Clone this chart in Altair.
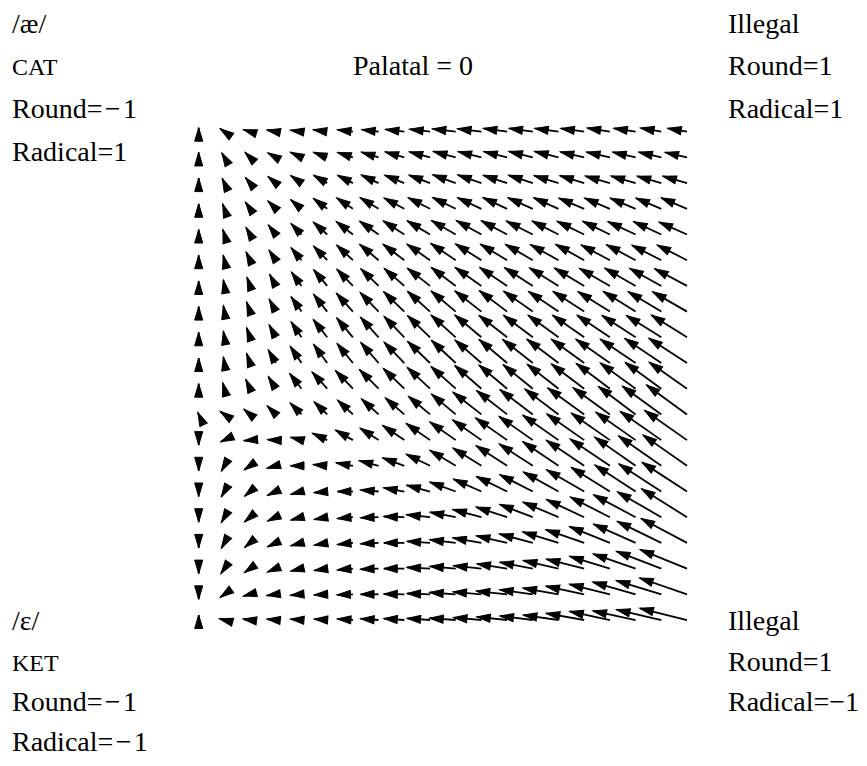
import math
import altair as alt
import pandas as pd

# ---- grid (Round on x, Radical on y; rows listed top to bottom) ----
ROUND = [-1.0, -0.8947, -0.7895, -0.6842, -0.5789, -0.4737, -0.3684, -0.2632, -0.1579, -0.0526,
         0.0526, 0.1579, 0.2632, 0.3684, 0.4737, 0.5789, 0.6842, 0.7895, 0.8947, 1.0]
RADICAL = [1.0, 0.8947, 0.7895, 0.6842, 0.5789, 0.4737, 0.3684, 0.2632, 0.1579, 0.0526,
           -0.0526, -0.1579, -0.2632, -0.3684, -0.4737, -0.5789, -0.6842, -0.7895, -0.8947, -1.0]

# ---- arrow direction: degrees above the leftward horizontal (90 = up, -90 = down) ----
ANGLE = [
    [90, 35, 17, 11, 8, 8, 7, 7, 7, 7, 7, 7, 8, 8, 8, 8, 9, 9, 10, 10],
    [90, 60, 45, 30, 25, 20, 18, 17, 16, 15, 15, 14, 14, 14, 14, 13, 13, 13, 13, 13],
    [90, 65, 50, 40, 35, 30, 27, 25, 22, 21, 20, 19, 18, 18, 17, 17, 16, 16, 16, 16],
    [90, 70, 55, 45, 40, 37, 34, 31, 28, 27, 26, 25, 25, 24, 24, 23, 23, 23, 23, 23],
    [90, 73, 60, 52, 46, 42, 38, 35, 33, 31, 30, 29, 28, 27, 27, 26, 26, 25, 25, 24],
    [90, 76, 64, 56, 50, 46, 43, 40, 37, 35, 34, 32, 31, 30, 29, 29, 28, 28, 27, 27],
    [90, 80, 70, 62, 54, 50, 46, 44, 41, 38, 37, 35, 34, 33, 32, 31, 30, 30, 29, 28],
    [90, 80, 70, 62, 55, 52, 48, 46, 44, 42, 40, 38, 37, 35, 34, 33, 32, 32, 31, 30],
    [90, 80, 70, 62, 56, 52, 50, 48, 46, 44, 42, 40, 38, 37, 36, 35, 34, 33, 32, 32],
    [90, 80, 70, 60, 56, 54, 51, 49, 46, 44, 43, 41, 40, 38, 37, 36, 35, 34, 34, 33],
    [90, 75, 65, 58, 52, 48, 46, 45, 44, 43, 42, 41, 40, 39, 38, 37, 37, 36, 36, 35],
    [65, 35, 40, 45, 45, 44, 43, 42, 41, 40, 40, 38, 38, 37, 37, 36, 36, 37, 36, 36],
    [-90, -25, -5, 3, 15, 25, 30, 33, 34, 35, 35, 35, 35, 35, 35, 35, 35, 35, 35, 35],
    [-90, -60, -35, -15, 0, 5, 10, 15, 20, 26, 31, 32, 33, 33, 34, 34, 34, 35, 35, 35],
    [-90, -60, -40, -25, -15, -5, 0, 5, 10, 15, 20, 24, 26, 27, 29, 30, 32, 33, 33, 33],
    [-90, -60, -40, -25, -15, -10, -5, -2, 2, 6, 11, 15, 18, 21, 23, 25, 27, 28, 30, 32],
    [-90, -60, -40, -25, -15, -10, -6, -3, 0, 4, 7, 10, 13, 15, 17, 19, 22, 24, 26, 28],
    [-90, -55, -35, -22, -13, -8, -5, -2, 0, 3, 5, 6, 9, 11, 13, 14, 17, 19, 21, 22],
    [-90, -35, -15, -8, -5, -3, -2, 0, 1, 2, 4, 5, 6, 8, 10, 12, 14, 16, 17, 19],
    [90, 15, 8, 6, 5, 4, 4, 4, 4, 4, 4, 5, 6, 7, 8, 10, 12, 12, 13, 14],
]

# ---- arrow magnitude ----
LENGTH = [
    [4, 5, 7, 9, 11, 14, 15.5, 17, 19, 20.5, 23.5, 24, 24, 24, 24, 23.5, 23, 22, 21, 19.5],
    [5, 5, 7, 9, 12, 14.5, 16, 18, 20, 21.5, 23, 24, 24, 24.5, 24.5, 24.5, 24, 23.5, 23, 22.5],
    [5, 5, 7, 10, 13, 15.5, 17, 19, 21, 22.5, 24.5, 25, 25, 25.5, 25.5, 25.5, 25.5, 25.5, 25, 25],
    [5, 5, 8, 11, 14, 17, 19.5, 21.5, 23, 24.5, 25.5, 26, 26.5, 27, 27, 27.5, 27.5, 27.5, 27.5, 28],
    [5, 5, 8, 12, 15, 18.5, 21, 23, 25, 26.5, 28, 28.5, 29, 29.5, 29.5, 30, 30, 30.5, 30.5, 30.5],
    [5, 5, 9, 12, 16, 19.5, 22, 24.5, 26.5, 28, 30, 30.5, 31, 31.5, 32, 32.5, 32.5, 33, 33, 33.5],
    [5, 6, 9, 13, 17, 21, 23, 24.5, 26.5, 28.5, 30.5, 32, 33, 33.5, 34, 34.5, 35, 35.5, 36, 36.5],
    [5, 6, 10, 14, 18, 22, 24.5, 26.5, 28.5, 30, 32, 33.5, 34.5, 35.5, 36, 37, 37.5, 38, 38.5, 39.5],
    [5, 6, 10, 14, 18.5, 22.5, 25, 27, 29, 31, 33, 34.5, 35.5, 36.5, 37.5, 38.5, 39.5, 40, 41, 42],
    [5, 6, 10, 15, 20, 23, 25, 27, 29, 31, 33, 35, 36.5, 38, 39.5, 40.5, 41.5, 42.5, 44, 45.5],
    [5, 6, 10, 14, 19, 22.5, 25, 27, 29, 31, 33, 35, 36.5, 38, 39.5, 41, 42, 43.5, 44.5, 46],
    [2, 5, 8, 12, 16, 18, 21, 23, 25, 28, 31.5, 36, 38.5, 41, 42, 45, 45.5, 46.5, 48, 50],
    [5, 4, 6, 8, 11, 16, 20, 22, 26, 29, 31.5, 35, 38.5, 41, 43.5, 45.5, 47, 48.5, 50, 51.5],
    [5, 6, 7, 9, 11, 14, 17, 20, 23, 26.5, 30, 33.5, 37, 40, 43, 45.5, 48, 50, 52, 53.5],
    [5, 6, 7, 9, 11, 13, 15.5, 18, 21, 24, 27.5, 30.5, 34, 37, 40, 43.5, 45.5, 48.5, 50.5, 53.5],
    [5, 6, 7, 9, 11, 13, 15.5, 18, 20.5, 23.5, 26, 29.5, 32.5, 35.5, 38.5, 41.5, 44.5, 47.5, 50.5, 53.5],
    [5, 6, 7, 9, 11, 13, 15.5, 18, 20.5, 23, 26, 29, 31.5, 34.5, 37.5, 40.5, 43.5, 46, 49, 52],
    [5, 6, 7, 9, 11, 13, 15.5, 18, 20.5, 23, 26, 28, 30.5, 33.5, 36, 39, 42, 45, 48, 50.5],
    [5, 5, 7, 9, 11, 13, 16, 18, 20.5, 23, 26, 28.5, 31, 33.5, 36, 39, 41.5, 44.5, 47, 50],
    [5, 5, 7, 9, 11, 13, 15.5, 18, 20.5, 23, 26, 28, 30.5, 33, 35.5, 38.5, 41, 43.5, 46, 48.5],
]

# ---- text ----
TOP_LEFT = ["/æ/", "CAT", "Round=\u200a\u2212\u200a1", "Radical=1"]
BOTTOM_LEFT = ["/ɛ/", "KET", "Round=\u200a\u2212\u200a1", "Radical=\u200a\u2212\u200a1"]
TOP_RIGHT = ["Illegal", "Round=1", "Radical=1"]
BOTTOM_RIGHT = ["Illegal", "Round=1", "Radical=\u22121"]
TITLE = "Palatal = 0"

# ---- layout / style ----
W, H = 851, 750
X_DOMAIN = [-1.7811, 1.7045]
Y_DOMAIN = [-1.5652, 1.5067]
QUIVER_SCALE = 1 / 244.15          # data units per magnitude unit
HEAD_PATH = "M0,0L-0.3,1L0.3,1Z"
HEAD_SIZE = 729                    # (2 * 13.5px)^2 -> ~13.5px long head
FONT = "Liberation Serif"

rows = []
for r, yv in enumerate(RADICAL):
    for c, xv in enumerate(ROUND):
        a = math.radians(ANGLE[r][c])
        L = LENGTH[r][c] * QUIVER_SCALE
        x2 = xv - L * math.cos(a)
        y2 = yv + L * math.sin(a)
        rot = (ANGLE[r][c] - 90) % 360
        rows.append(dict(x=xv, y=yv, x2=x2, y2=y2, rot=rot))
arrows = pd.DataFrame(rows)

xs = alt.Scale(domain=X_DOMAIN, nice=False, zero=False)
ys = alt.Scale(domain=Y_DOMAIN, nice=False, zero=False)

shaft = alt.Chart(arrows).mark_rule(color="black", strokeWidth=1.8).encode(
    x=alt.X("x:Q", scale=xs, axis=None),
    y=alt.Y("y:Q", scale=ys, axis=None),
    x2="x2:Q",
    y2="y2:Q",
)
head = alt.Chart(arrows).mark_point(
    shape=HEAD_PATH, filled=True, fill="black", stroke="black", strokeWidth=1,
    strokeJoin="miter", opacity=1, size=HEAD_SIZE
).encode(
    x=alt.X("x2:Q", scale=xs, axis=None),
    y=alt.Y("y2:Q", scale=ys, axis=None),
    angle=alt.Angle("rot:Q", scale=None),
)

# label anchor positions in data units (left edge, baseline)
LEFT_X, RIGHT_X, TITLE_X = -1.7647, 1.1679, -0.368
TOP_Y = [1.4043, 1.2323, 1.0562, 0.8800]
BOT_Y = [-1.0409, -1.2088, -1.3726, -1.5365]

lab = []
for i, t in enumerate(TOP_LEFT):
    lab.append(dict(t=t, x=LEFT_X, y=TOP_Y[i], small=(i == 1)))
for i, t in enumerate(BOTTOM_LEFT):
    lab.append(dict(t=t, x=LEFT_X, y=BOT_Y[i], small=(i == 1)))
for i, t in enumerate(TOP_RIGHT):
    lab.append(dict(t=t, x=RIGHT_X, y=TOP_Y[i], small=False))
for i, t in enumerate(BOTTOM_RIGHT):
    lab.append(dict(t=t, x=RIGHT_X, y=BOT_Y[i], small=False))
lab.append(dict(t=TITLE, x=TITLE_X, y=TOP_Y[1], small=False))
labels = pd.DataFrame(lab)

big = alt.Chart(labels[~labels.small]).mark_text(
    align="left", baseline="alphabetic", font=FONT, fontSize=28, color="black"
).encode(
    x=alt.X("x:Q", scale=xs, axis=None),
    y=alt.Y("y:Q", scale=ys, axis=None),
    text="t:N",
)
small = alt.Chart(labels[labels.small]).mark_text(
    align="left", baseline="alphabetic", font=FONT, fontSize=24, color="black"
).encode(
    x=alt.X("x:Q", scale=xs, axis=None),
    y=alt.Y("y:Q", scale=ys, axis=None),
    text="t:N",
)

chart = alt.layer(shaft, head, big, small).properties(
    width=W, height=H, padding=0, autosize=alt.AutoSizeParams(type="none"),
    background="white",
).configure_view(strokeWidth=0)

chart.save("out.html", embed_options={"renderer": "svg", "actions": False})
